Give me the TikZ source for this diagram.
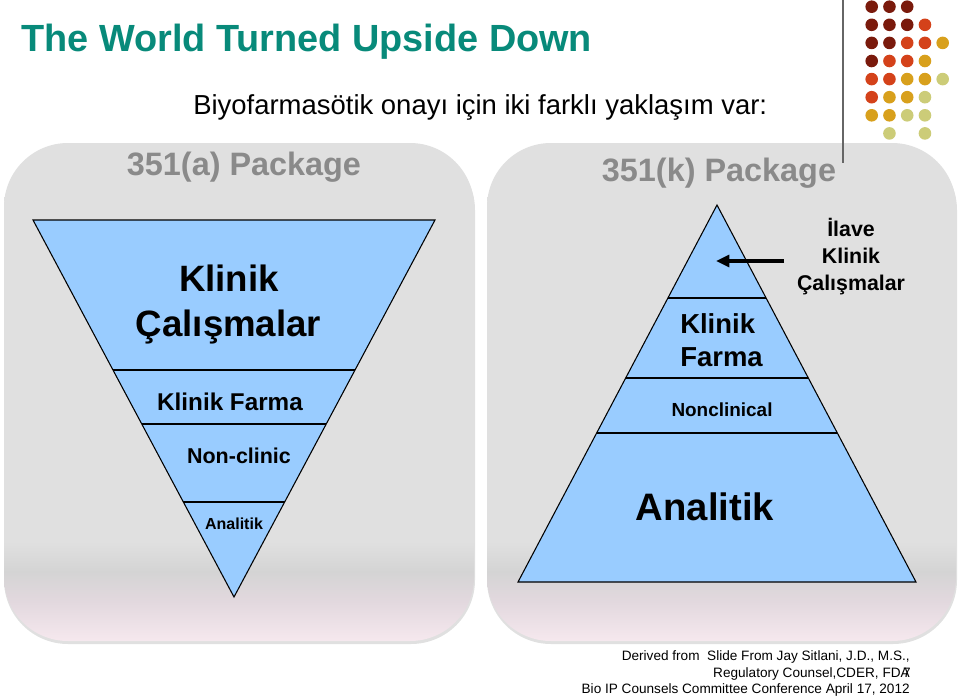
\documentclass[tikz,border=0pt]{standalone}
\usepackage{fontspec}
\setmainfont{Liberation Sans}
\usetikzlibrary{positioning,arrows.meta}

\definecolor{titleteal}{RGB}{8,138,122}
\definecolor{pkggray}{RGB}{138,138,138}
\definecolor{tribl}{RGB}{153,204,255}
\definecolor{pangray}{RGB}{224,224,224}
\definecolor{pandark}{RGB}{212,212,212}
\definecolor{panmid}{RGB}{226,216,222}
\definecolor{panpink}{RGB}{246,232,238}
\definecolor{dotA}{RGB}{122,26,12}
\definecolor{dotB}{RGB}{212,66,26}
\definecolor{dotC}{RGB}{216,160,28}
\definecolor{dotD}{RGB}{204,204,120}

\pgfdeclareverticalshading{panelshade}{100bp}{color(0bp)=(panpink); color(25bp)=(panpink); color(29bp)=(panmid); color(32bp)=(pandark); color(35bp)=(pangray); color(100bp)=(pangray)}

\newcommand{\fs}[1]{\fontsize{#1}{1.2\dimexpr#1pt\relax}\selectfont}

\begin{document}
\begin{tikzpicture}[x=0.75pt,y=-0.75pt,
	panel/.style={shading=panelshade,rounded corners=48pt},
	panelshadow/.style={fill=black,opacity=0.12,rounded corners=48pt},
	tri/.style={fill=tribl,draw=black,line width=0.8pt,line join=miter},
	cut/.style={draw=black,line width=0.8pt},
	lbl/.style={inner sep=0pt,anchor=base,font=\bfseries}]
	\useasboundingbox[fill=white] (0,0) rectangle (960,696);

	% panels
	\fill[panelshadow] (4,146) rectangle (475,644);
	\fill[panelshadow] (487,146) rectangle (957,644);
	\shade[panel] (4,143) rectangle (474,641);
	\shade[panel] (487,143) rectangle (956,641);

	% title
	\node[lbl,anchor=base west,text=titleteal,font=\bfseries\fs{28.4}]	(title)	at (21,51.5)	{The World Turned Upside Down};
	\node[lbl,anchor=base west,font=\fs{20.6}]							(sub)	at (193,114)	{Biyofarmasötik onayı için iki farklı yaklaşım var:};

	% dots
	\draw[line width=1.3pt,black!60] (843,0) -- (843,163);
	\foreach \c/\r/\k in {0/0/dotA,1/0/dotA,2/0/dotA,
		0/1/dotA,1/1/dotA,2/1/dotA,3/1/dotB,
		0/2/dotA,1/2/dotA,2/2/dotB,3/2/dotB,4/2/dotC,
		0/3/dotA,1/3/dotB,2/3/dotB,3/3/dotC,
		0/4/dotB,1/4/dotB,2/4/dotC,3/4/dotC,4/4/dotD,
		0/5/dotB,1/5/dotC,2/5/dotC,3/5/dotD,
		0/6/dotC,1/6/dotC,2/6/dotD,3/6/dotD,
		1/7/dotD,3/7/dotD}
		\fill[\k] (871.7+17.75*\c,6.7+18.1*\r) circle[radius=6.3];

	\node[lbl,text=pkggray,font=\bfseries\fs{24.3}]	(pkga)	at (244,175)	{351(a) Package};
	\node[lbl,text=pkggray,font=\bfseries\fs{24.3}]	(pkgk)	at (719,181)	{351(k) Package};

	% inverted triangle
	\draw[tri] (33,220) -- (435,220) -- (234,597) -- cycle;
	\draw[cut] (113,370) -- (355,370);
	\draw[cut] (141.8,424) -- (326.2,424);
	\draw[cut] (183.4,502) -- (284.6,502);

	\node[lbl,font=\bfseries\fs{27.5}]	(ak1)	at (229,291.5)	{Klinik};
	\node[lbl,font=\bfseries\fs{27.5}]	(ak2)	at (228.5,336.5)	{Çalışmalar};
	\node[lbl,font=\bfseries\fs{18.2}]	(af)	at (230,410)	{Klinik Farma};
	\node[lbl,font=\bfseries\fs{16.1}]	(an)	at (239,463.3)	{Non-clinic};
	\node[lbl,font=\bfseries\fs{12}]	(aa)	at (234,529.3)	{Analitik};

	% pyramid
	\draw[tri] (717,205) -- (916,582) -- (518,582) -- cycle;
	\draw[cut] (668,298) -- (766,298);
	\draw[cut] (625.7,378) -- (808.3,378);
	\draw[cut] (596.6,433) -- (837.4,433);

	\node[lbl,anchor=base west,font=\bfseries\fs{20.6}]	(kf1)	at (680,333.3)	{Klinik};
	\node[lbl,anchor=base west,font=\bfseries\fs{20.6}]	(kf2)	at (680,366)	{Farma};
	\node[lbl,font=\bfseries\fs{14.2}]	(kn)	at (722,416)	{Nonclinical};
	\node[lbl,font=\bfseries\fs{28.7}]	(ka)	at (705,520.7)	{Analitik};

	\node[lbl,font=\bfseries\fs{16}]	(il1)	at (851,236.7)	{İlave};
	\node[lbl,font=\bfseries\fs{16}]	(il2)	at (851,263.3)	{Klinik};
	\node[lbl,font=\bfseries\fs{16}]	(il3)	at (851,290)	{Çalışmalar};

	\coordinate (arS) at (784,261);
	\coordinate (arE) at (716,261);
	\draw[line width=2.3pt,-{Triangle[length=10pt,width=9pt]}] (arS) -- (arE);

	% footer
	\node[lbl,anchor=base east,font=\fs{10.2}]	(f1)	at (910,660)	{Derived from\ \ Slide From Jay Sitlani, J.D., M.S.,};
	\node[lbl,anchor=base east,font=\fs{10.2}]	(f2)	at (910,677)	{Regulatory Counsel,CDER, FDA};
	\node[lbl,anchor=base east,font=\fs{10.2}]	(f3)	at (910,693)	{Bio IP Counsels Committee Conference April 17, 2012};
	\node[lbl,anchor=base east,font=\fs{10.2}]	(pg)	at (911,677)	{7};
\end{tikzpicture}
\end{document}
